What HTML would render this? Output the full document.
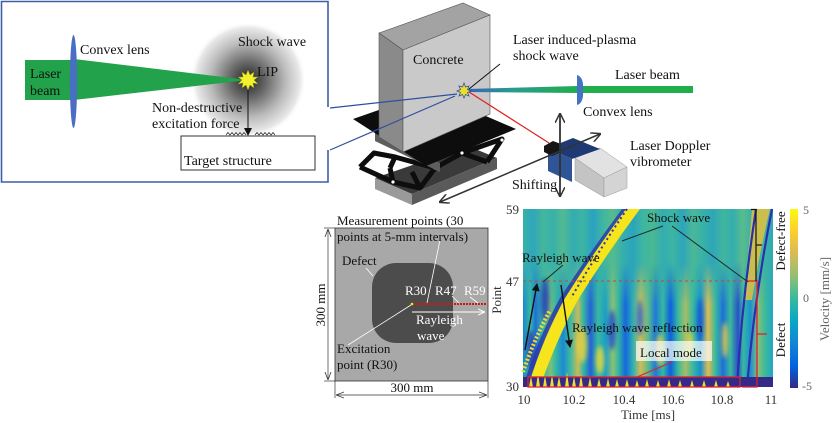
<!DOCTYPE html>
<html><head><meta charset="utf-8"><style>
html,body{margin:0;padding:0;background:#fff;}
svg{display:block;}
text{font-family:"Liberation Serif",serif;}
</style></head><body>
<svg width="840" height="423" viewBox="0 0 840 423" xmlns="http://www.w3.org/2000/svg">
<defs>
<radialGradient id="halo" cx="248" cy="80" r="58" gradientUnits="userSpaceOnUse">
<stop offset="0" stop-color="#222"/><stop offset="0.3" stop-color="#666"/><stop offset="0.65" stop-color="#bbb"/><stop offset="0.9" stop-color="#e8e8e8"/><stop offset="1" stop-color="#fff" stop-opacity="0"/>
</radialGradient>
<linearGradient id="beamR" x1="466" y1="0" x2="578" y2="0" gradientUnits="userSpaceOnUse">
<stop offset="0" stop-color="#3a5fb8"/><stop offset="0.4" stop-color="#2a9a90"/><stop offset="1" stop-color="#1fae4a"/>
</linearGradient>
<linearGradient id="cbar" x1="0" y1="209" x2="0" y2="388" gradientUnits="userSpaceOnUse">
<stop offset="0" stop-color="#f9fb0e"/><stop offset="0.125" stop-color="#fcce2e"/><stop offset="0.25" stop-color="#d9ba56"/><stop offset="0.375" stop-color="#92bf73"/><stop offset="0.5" stop-color="#38b99e"/><stop offset="0.625" stop-color="#06a7c6"/><stop offset="0.75" stop-color="#1485d4"/><stop offset="0.875" stop-color="#0363e1"/><stop offset="1" stop-color="#352a87"/>
</linearGradient>
<linearGradient id="gU" x1="523" y1="0" x2="773" y2="0" gradientUnits="userSpaceOnUse">
<stop offset="0" stop-color="#38b2a8"/><stop offset="0.04" stop-color="#2fa6bb"/><stop offset="0.08" stop-color="#44b69c"/><stop offset="0.12" stop-color="#37b1aa"/><stop offset="0.16" stop-color="#52ba92"/><stop offset="0.2" stop-color="#34acb0"/><stop offset="0.24" stop-color="#3db5a3"/><stop offset="0.28" stop-color="#2aa2c0"/><stop offset="0.32" stop-color="#3fb6a0"/><stop offset="0.36" stop-color="#56bb8e"/><stop offset="0.4" stop-color="#35afad"/><stop offset="0.44" stop-color="#2ba4bc"/><stop offset="0.48" stop-color="#3eb6a1"/><stop offset="0.52" stop-color="#4ab893"/><stop offset="0.56" stop-color="#33adb1"/><stop offset="0.6" stop-color="#3db5a3"/><stop offset="0.64" stop-color="#2da5ba"/><stop offset="0.68" stop-color="#4bb897"/><stop offset="0.72" stop-color="#37b1a8"/><stop offset="0.76" stop-color="#2ea6b9"/><stop offset="0.8" stop-color="#40b69e"/><stop offset="0.84" stop-color="#35aeae"/><stop offset="0.88" stop-color="#5abc8c"/><stop offset="0.92" stop-color="#34adb0"/><stop offset="0.96" stop-color="#3eb5a2"/><stop offset="1" stop-color="#30a8b6"/>
</linearGradient>
<linearGradient id="gL" x1="523" y1="0" x2="773" y2="0" gradientUnits="userSpaceOnUse">
<stop offset="0" stop-color="#1c86d0"/><stop offset="0.03" stop-color="#38b99e"/><stop offset="0.05" stop-color="#1f70d8"/><stop offset="0.08" stop-color="#38b99e"/><stop offset="0.11" stop-color="#7fbf78"/><stop offset="0.13" stop-color="#38b99e"/><stop offset="0.16" stop-color="#1b8ad2"/><stop offset="0.19" stop-color="#3fb8a0"/><stop offset="0.22" stop-color="#c9bb5a"/><stop offset="0.24" stop-color="#38b99e"/><stop offset="0.27" stop-color="#2361d6"/><stop offset="0.3" stop-color="#38b99e"/><stop offset="0.33" stop-color="#1aa0c8"/><stop offset="0.36" stop-color="#8fbf72"/><stop offset="0.38" stop-color="#38b99e"/><stop offset="0.41" stop-color="#1467dc"/><stop offset="0.44" stop-color="#30b0b0"/><stop offset="0.47" stop-color="#d2bb55"/><stop offset="0.5" stop-color="#5dbb8c"/><stop offset="0.53" stop-color="#1d7ad6"/><stop offset="0.56" stop-color="#38b99e"/><stop offset="0.59" stop-color="#0e5ee0"/><stop offset="0.62" stop-color="#38b99e"/><stop offset="0.65" stop-color="#a6bd68"/><stop offset="0.68" stop-color="#38b99e"/><stop offset="0.71" stop-color="#1490d0"/><stop offset="0.74" stop-color="#e0bc50"/><stop offset="0.77" stop-color="#38b99e"/><stop offset="0.8" stop-color="#1d6fd8"/><stop offset="0.83" stop-color="#38b99e"/><stop offset="0.86" stop-color="#2a4fc8"/><stop offset="0.88" stop-color="#38b99e"/><stop offset="0.91" stop-color="#1a8fd0"/><stop offset="0.94" stop-color="#8bbf74"/><stop offset="0.97" stop-color="#38b99e"/><stop offset="1" stop-color="#22a6c0"/>
</linearGradient>
<linearGradient id="vfade" x1="0" y1="262" x2="0" y2="305" gradientUnits="userSpaceOnUse">
<stop offset="0" stop-color="#fff" stop-opacity="0"/><stop offset="1" stop-color="#fff" stop-opacity="1"/>
</linearGradient>
<mask id="mL"><rect x="523" y="209" width="250" height="178" fill="url(#vfade)"/></mask>
<filter id="bl" x="-50%" y="-50%" width="200%" height="200%"><feGaussianBlur stdDeviation="2"/></filter>
<marker id="ah" markerWidth="8" markerHeight="8" refX="7" refY="4" orient="auto" markerUnits="userSpaceOnUse"><path d="M0,0 L8,4 L0,8 Z" fill="#111"/></marker>
<marker id="ahg" markerWidth="10" markerHeight="10" refX="9" refY="5" orient="auto" markerUnits="userSpaceOnUse"><path d="M0,0 L10,5 L0,10" fill="none" stroke="#333" stroke-width="1.5"/></marker>
<marker id="ahgs" markerWidth="10" markerHeight="10" refX="1" refY="5" orient="auto" markerUnits="userSpaceOnUse"><path d="M10,0 L0,5 L10,10" fill="none" stroke="#333" stroke-width="1.5"/></marker>
<marker id="ahs" markerWidth="8" markerHeight="8" refX="8" refY="4" orient="auto" markerUnits="userSpaceOnUse"><path d="M0,1 L8,4 L0,7" fill="none" stroke="#333" stroke-width="0.8"/></marker>
<marker id="ahss" markerWidth="8" markerHeight="8" refX="0" refY="4" orient="auto" markerUnits="userSpaceOnUse"><path d="M8,1 L0,4 L8,7" fill="none" stroke="#333" stroke-width="0.8"/></marker>
<marker id="ahw" markerWidth="7" markerHeight="7" refX="7" refY="3.5" orient="auto" markerUnits="userSpaceOnUse"><path d="M0,0.5 L7,3.5 L0,6.5" fill="none" stroke="#fff" stroke-width="1"/></marker>
</defs>

<!-- ===== Inset (top-left) ===== -->
<circle cx="248" cy="80" r="58" fill="url(#halo)"/>
<rect x="25" y="60" width="49" height="40" fill="#22a24a"/>
<polygon points="74,59 248,80 74,100" fill="#22a24a"/>
<ellipse cx="73.5" cy="81.5" rx="3.6" ry="46.5" fill="#4a6ec4"/>
<polygon points="248,70 250,75 254,72 253,77 258,77 254,80 258,84 253,83 254,88 250,85 248,90 246,85 242,88 243,83 238,84 242,80 238,77 243,77 242,72 246,75" fill="#f2f02a" stroke="#8a8a30" stroke-width="0.5"/>
<text x="30" y="78" font-size="14" fill="#111">Laser</text>
<text x="30" y="95" font-size="14" fill="#111">beam</text>
<text x="80" y="54" font-size="14" fill="#111">Convex lens</text>
<text x="238" y="46" font-size="14" fill="#111">Shock wave</text>
<text x="257" y="76" font-size="14" fill="#111">LIP</text>
<text x="152" y="112" font-size="14" fill="#111">Non-destructive</text>
<text x="152" y="128" font-size="14" fill="#111">excitation force</text>
<line x1="248" y1="90" x2="248" y2="135" stroke="#111" stroke-width="1" marker-end="url(#ah)"/>
<polyline points="226,135 228,132.5 230,135 232,132.5 234,135 236,132.5 238,135 240,132.5 242,135 244,132.5 246,135" fill="none" stroke="#333" stroke-width="0.8"/>
<polyline points="255,135 257,132.5 259,135 261,132.5 263,135 265,132.5 267,135 269,132.5 271,135 273,132.5 275,135" fill="none" stroke="#333" stroke-width="0.8"/>
<rect x="181" y="136" width="134" height="34" fill="#fff" stroke="#333" stroke-width="1"/>
<text x="184" y="165" font-size="14" fill="#111">Target structure</text>
<path d="M328,107 L328,1.5 L1.5,1.5 L1.5,182 L328,182 L328,150" fill="none" stroke="#3d5ea6" stroke-width="1.6"/>

<!-- ===== Apparatus ===== -->
<!-- base box -->
<polygon points="375,178 412,194 497,158 468,146" fill="#3a3a3a"/>
<polygon points="375,178 412,194 412,205 375,189" fill="#9a9a9a"/>
<polygon points="412,194 497,158 497,169 412,205" fill="#5a5a5a"/>
<!-- scissor links -->
<g fill="none" stroke="#0d0d0d" stroke-width="5" stroke-linejoin="round">
<polyline points="360,167 374,153 395,157 390,168"/>
<polyline points="360,167 393,182 420,188 435,168"/>
<line x1="390" y1="168" x2="393" y2="182"/>
<line x1="395" y1="157" x2="435" y2="168"/>
<polyline points="435,168 462,153 502,139 487,162"/>
<line x1="462" y1="153" x2="487" y2="162"/>
<line x1="412" y1="172" x2="420" y2="188"/>
</g>
<circle cx="393" cy="182" r="1.6" fill="#fff"/><circle cx="435" cy="168" r="1.6" fill="#fff"/><circle cx="462" cy="153" r="1.6" fill="#fff"/><circle cx="502" cy="140" r="1.6" fill="#fff"/>
<!-- gray beam under plate -->
<polygon points="375,132 440,163 440,172 375,141" fill="#5e5e5e"/>
<!-- plate -->
<polygon points="353,119 430,92 516,129 426,166" fill="#0d0d0d"/>
<!-- concrete block -->
<polygon points="379,33 463,3 490,15 403,50" fill="#a3a3a3" stroke="#555" stroke-width="0.6"/>
<polygon points="379,33 403,50 403,152 379,137" fill="#8a8a8a" stroke="#555" stroke-width="0.6"/>
<polygon points="403,50 490,15 490,114 403,152" fill="#c9c9c9" stroke="#555" stroke-width="0.6"/>
<text x="413" y="64" font-size="14" fill="#111">Concrete</text>
<!-- beams -->
<polygon points="466,89 578,86 578,93 466,92" fill="url(#beamR)"/>
<rect x="578" y="86" width="115" height="7" fill="#1fae4a"/>
<path d="M577,75 Q584,77 583,90 Q584,103 577,105 Z" fill="#4472c4"/>
<line x1="469" y1="92" x2="549" y2="143" stroke="#e02020" stroke-width="1.2"/>
<polygon points="464,83 465.5,87 469,86 467.5,89.5 471,91 467.5,92.5 469,96 465.5,94.5 464,98 462.5,94.5 459,96 460.5,92.5 457,91 460.5,89.5 459,86 462.5,87" fill="#ecdf2a" stroke="#3050a0" stroke-width="0.8"/>
<line x1="330" y1="108" x2="457" y2="94" stroke="#2f4f9f" stroke-width="1.2"/>
<line x1="330" y1="150" x2="455" y2="96" stroke="#2f4f9f" stroke-width="1.2"/>
<line x1="500" y1="64" x2="469" y2="89" stroke="#111" stroke-width="1"/>
<text x="513" y="44" font-size="14" fill="#111">Laser induced-plasma</text>
<text x="513" y="60" font-size="14" fill="#111">shock wave</text>
<text x="615" y="79" font-size="14" fill="#111">Laser beam</text>
<text x="583" y="116" font-size="14" fill="#111">Convex lens</text>
<text x="630" y="150" font-size="14" fill="#111">Laser Doppler</text>
<text x="630" y="166" font-size="14" fill="#111">vibrometer</text>
<!-- LDV -->
<polygon points="575,158 600,148 627,167 604,178" fill="#e2e2e2" stroke="#999" stroke-width="0.5"/>
<polygon points="575,158 604,178 604,197 575,180" fill="#c4c4c4" stroke="#999" stroke-width="0.5"/>
<polygon points="604,178 627,167 627,188 604,197" fill="#d4d4d4" stroke="#999" stroke-width="0.5"/>
<polygon points="548,148 573,138 600,149 572,159" fill="#1f3a72"/>
<polygon points="548,148 572,159 572,182 548,171" fill="#2f5597"/>
<polygon points="544,146 553,141 561,144 561,152 552,156 544,152" fill="#151515"/>
<line x1="560" y1="196" x2="560" y2="114" stroke="#333" stroke-width="1.8" marker-end="url(#ahg)" marker-start="url(#ahgs)"/>
<line x1="440" y1="202" x2="600" y2="134" stroke="#333" stroke-width="1.5" marker-end="url(#ahg)" marker-start="url(#ahgs)"/>
<text x="512" y="189" font-size="14" fill="#111">Shifting</text>

<!-- ===== Plate schematic (bottom-left) ===== -->
<rect x="335" y="228" width="153" height="153" fill="#a8a8a8" stroke="#333" stroke-width="0.8"/>
<rect x="372" y="263" width="81" height="80" rx="24" ry="24" fill="#4c4c4c"/>
<line x1="412" y1="304" x2="487" y2="304" stroke="#d01818" stroke-width="2" stroke-dasharray="2,1"/>
<line x1="412" y1="312" x2="485" y2="312" stroke="#fff" stroke-width="1" marker-end="url(#ahw)"/>
<circle cx="412" cy="304" r="1.3" fill="#ee0"/>
<g stroke="#fff" stroke-width="0.8">
<line x1="440" y1="240" x2="427" y2="303"/>
<line x1="348" y1="345" x2="411" y2="305"/>
<line x1="366" y1="268" x2="373" y2="276"/>
<line x1="452" y1="296" x2="459" y2="303"/>
<line x1="470" y1="297" x2="478" y2="303"/>
</g>
<text x="337" y="225" font-size="13" fill="#111">Measurement points (30</text>
<text x="337" y="241" font-size="13" fill="#111">points at 5-mm intervals)</text>
<text x="342" y="265" font-size="13" fill="#111">Defect</text>
<text x="405" y="295" font-size="13" fill="#fff">R30</text>
<text x="435" y="295" font-size="13" fill="#fff">R47</text>
<text x="464" y="295" font-size="13" fill="#fff">R59</text>
<text x="416" y="324" font-size="13" fill="#fff">Rayleigh</text>
<text x="417" y="340" font-size="13" fill="#fff">wave</text>
<text x="337" y="353" font-size="13" fill="#111">Excitation</text>
<text x="337" y="369" font-size="13" fill="#111">point (R30)</text>
<g stroke="#333" stroke-width="0.7" fill="none">
<line x1="324" y1="228" x2="335" y2="228"/><line x1="324" y1="381" x2="335" y2="381"/>
<line x1="335" y1="381" x2="335" y2="398"/><line x1="488" y1="381" x2="488" y2="398"/>
<line x1="328" y1="229" x2="328" y2="380" marker-end="url(#ahs)" marker-start="url(#ahss)"/>
<line x1="336" y1="395" x2="487" y2="395" marker-end="url(#ahs)" marker-start="url(#ahss)"/>
</g>
<text x="412" y="392" font-size="13" fill="#111" text-anchor="middle">300 mm</text>
<text transform="translate(325,305) rotate(-90)" font-size="13" fill="#111" text-anchor="middle">300 mm</text>

<!-- ===== Spectrogram ===== -->
<rect x="523" y="209" width="250" height="178" fill="url(#gU)"/>
<rect x="523" y="209" width="250" height="178" fill="url(#gL)" mask="url(#mL)"/>
<g filter="url(#bl)" opacity="0.85">
<ellipse cx="582" cy="345" rx="5" ry="18" fill="#e8d040"/>
<ellipse cx="600" cy="360" rx="4" ry="14" fill="#f0d838"/>
<ellipse cx="660" cy="350" rx="4" ry="16" fill="#e0c848"/>
<ellipse cx="690" cy="345" rx="3" ry="14" fill="#e8d040"/>
<ellipse cx="612" cy="330" rx="4" ry="20" fill="#1b4fd0"/>
<ellipse cx="700" cy="320" rx="3" ry="22" fill="#1b4fd0"/>
<ellipse cx="545" cy="300" rx="4" ry="22" fill="#2a3ab8"/>
<ellipse cx="640" cy="318" rx="3" ry="18" fill="#2560d8"/>
<ellipse cx="725" cy="340" rx="3" ry="18" fill="#e8d040"/>
<ellipse cx="531" cy="350" rx="4" ry="20" fill="#2a3ab8"/>
</g>
<!-- diagonal Rayleigh band -->
<path d="M523,387 Q537,340 560,298 Q590,252 622,209 L628,209 Q597,252 568,298 Q548,340 533,387 Z" fill="#2b3aa8" opacity="0.85"/>
<path d="M528,387 Q542,340 565,298 Q594,252 626,209 L640,209 Q608,252 579,298 Q556,340 540,387 Z" fill="#f6e41c"/>
<path d="M523,372 Q534,340 550,310" fill="none" stroke="#f0dc30" stroke-width="4" stroke-dasharray="2,2"/>
<path d="M627,209 Q598,252 571,298" fill="none" stroke="#2b3aa8" stroke-width="2" stroke-dasharray="2,3"/>
<!-- shock wave curves -->
<path d="M752,209 L770,209 Q758,260 752,300 L744,300 Q748,260 752,209 Z" fill="#e4c040" opacity="0.85"/>
<path d="M737,387 Q742,300 756,209" fill="none" stroke="#2a2fb0" stroke-width="2.2"/>
<path d="M747,387 Q754,300 772,209" fill="none" stroke="#2a2fb0" stroke-width="2.2"/>
<!-- bottom row -->
<rect x="523" y="377" width="250" height="10" fill="#352a87"/>
<g fill="#f2dc30">
<path d="M529,387 L531,376 L533,387 Z"/><path d="M536,387 L538,373 L540,387 Z"/><path d="M543,387 L545,375 L547,387 Z"/><path d="M550,387 L552,374 L554,387 Z"/><path d="M557,387 L559,376 L561,387 Z"/><path d="M565,387 L567,372 L569,387 Z"/><path d="M572,387 L574,376 L576,387 Z"/><path d="M579,387 L581,374 L583,387 Z"/><path d="M588,387 L590,377 L592,387 Z"/><path d="M597,387 L599,378 L601,387 Z"/><path d="M606,387 L608,378 L610,387 Z"/><path d="M615,387 L617,379 L619,387 Z"/><path d="M625,387 L627,379 L629,387 Z"/><path d="M635,387 L637,380 L639,387 Z"/><path d="M645,387 L647,379 L649,387 Z"/><path d="M656,387 L658,380 L660,387 Z"/><path d="M667,387 L669,379 L671,387 Z"/><path d="M678,387 L680,380 L682,387 Z"/><path d="M690,387 L692,380 L694,387 Z"/><path d="M702,387 L704,380 L706,387 Z"/><path d="M714,387 L716,380 L718,387 Z"/><path d="M726,387 L728,381 L730,387 Z"/>
</g>
<rect x="528" y="377" width="212" height="10" fill="none" stroke="#e02030" stroke-width="1.3"/>
<!-- dashed line at 47 -->
<line x1="523" y1="281" x2="748" y2="281" stroke="#b0503a" stroke-width="1" stroke-dasharray="3,3"/>
<!-- brackets -->
<path d="M746,281 L757,281 L757,387 L742,387" fill="none" stroke="#e02030" stroke-width="1.3"/>
<line x1="757" y1="334" x2="767" y2="334" stroke="#e02030" stroke-width="1.3"/>
<path d="M751,209.5 L756,209.5 L756,281" fill="none" stroke="#111" stroke-width="1.2"/>
<line x1="756" y1="245" x2="762" y2="245" stroke="#111" stroke-width="1.2"/>
<!-- annotations -->
<rect x="636" y="341" width="76" height="20" fill="#fff" opacity="0.7"/>
<text x="647" y="222" font-size="13" fill="#111">Shock wave</text>
<line x1="663" y1="226" x2="622" y2="241" stroke="#1a2a2a" stroke-width="1"/>
<line x1="672" y1="226" x2="748" y2="282" stroke="#1a2a2a" stroke-width="1"/>
<text x="522" y="262" font-size="13" fill="#111">Rayleigh wave</text>
<line x1="563" y1="265" x2="543" y2="282" stroke="#1a2a2a" stroke-width="1"/>
<line x1="525" y1="350" x2="537" y2="284" stroke="#111" stroke-width="1.4" marker-end="url(#ah)"/>
<line x1="561" y1="285" x2="570" y2="347" stroke="#111" stroke-width="1.4" marker-end="url(#ah)"/>
<text x="572" y="332" font-size="13" fill="#111">Rayleigh wave reflection</text>
<text x="640" y="357" font-size="13" fill="#111">Local mode</text>
<line x1="637" y1="377" x2="672" y2="362" stroke="#e02030" stroke-width="1.2"/>
<!-- axes labels -->
<g font-size="13" fill="#333">
<text x="519" y="214" text-anchor="end">59</text>
<text x="519" y="286" text-anchor="end">47</text>
<text x="519" y="391" text-anchor="end">30</text>
<text x="524" y="404" text-anchor="middle">10</text>
<text x="574" y="404" text-anchor="middle">10.2</text>
<text x="624" y="404" text-anchor="middle">10.4</text>
<text x="673" y="404" text-anchor="middle">10.6</text>
<text x="722" y="404" text-anchor="middle">10.8</text>
<text x="771" y="404" text-anchor="middle">11</text>
<text x="648" y="419" text-anchor="middle">Time [ms]</text>
<text transform="translate(501,300) rotate(-90)" text-anchor="middle">Point</text>
</g>
<text transform="translate(785,241) rotate(-90)" font-size="13" fill="#111" text-anchor="middle">Defect-free</text>
<text transform="translate(785,340) rotate(-90)" font-size="13" fill="#111" text-anchor="middle">Defect</text>
<rect x="790" y="209" width="8" height="179" fill="url(#cbar)"/>
<g font-size="12" fill="#666">
<text x="803" y="214">5</text>
<text x="803" y="302">0</text>
<text x="802" y="390">-5</text>
<text transform="translate(829,299) rotate(-90)" text-anchor="middle" font-size="13">Velocity [mm/s]</text>
</g>
</svg>
</body></html>
